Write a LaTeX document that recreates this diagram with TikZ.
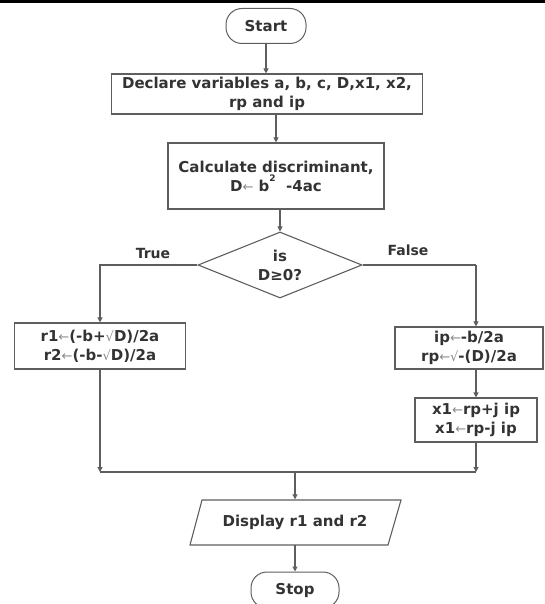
\documentclass[tikz,border=0pt]{standalone}
\usepackage{fontspec}
\setmainfont{DejaVu Sans}
\usetikzlibrary{arrows.meta,shapes.geometric}
\definecolor{ink}{HTML}{333333}
\definecolor{edge}{HTML}{5E5E5E}
\definecolor{soft}{HTML}{8A8A8A}
% light assignment arrow and root sign
\newcommand\getsarrow{{\fontsize{13}{13}\selectfont\mdseries\color{soft}←}}
\newcommand\rootsign{{\fontsize{13}{13}\selectfont\mdseries\color{soft}√}}
\begin{document}
\begin{tikzpicture}[x=1pt,y=-1pt,
  txt/.style={font=\fontsize{15}{19}\selectfont\bfseries, text=ink, align=center},
  procbox/.style={txt, draw=edge, line width=1.1pt, inner sep=0pt},
  term/.style={txt, draw=edge, line width=1pt, rounded corners=16pt, inner sep=0pt},
  decision/.style={txt, draw=edge, line width=1.1pt, shape=diamond, aspect=2.48, inner sep=0pt},
  flow/.style={draw=edge, line width=1.1pt},
  arr/.style={flow, -{Triangle[length=5pt,width=5pt]}},
  lbl/.style={font=\fontsize{14}{16}\selectfont\bfseries, text=ink}
]
\useasboundingbox (0,0) rectangle (545,604);
% rule along the top edge
\fill[black] (0,0) rectangle (545,3.5);

% nodes
\node[term, minimum width=80, minimum height=35] (start) at (266,26) {Start};
\node[procbox, minimum width=311, minimum height=40] (decl) at (267,94)
  {Declare variables a, b, c, D,x1, x2,\\rp and ip};
\node[procbox, minimum width=216, minimum height=66] (calc) at (276,176)
  {Calculate discriminant,\\D\getsarrow\ b\raisebox{10pt}{\fontsize{9}{9}\selectfont 2}\ \ -4ac};
\node[decision, minimum width=164, minimum height=66] (cond) at (280,265)
  {is\\D≥0?};
\node[procbox, minimum width=171, minimum height=46] (roots) at (100,346)
  {r1\getsarrow(-b+\rootsign D)/2a\\r2\getsarrow(-b-\rootsign D)/2a};
\node[procbox, minimum width=148, minimum height=42] (cplx) at (469,348)
  {ip\getsarrow-b/2a\\rp\getsarrow\rootsign-(D)/2a};
\node[procbox, minimum width=122, minimum height=44] (xs) at (476,420)
  {x1\getsarrow rp+j ip\\x1\getsarrow rp-j ip};

% output parallelogram
\node[txt, minimum width=186, minimum height=45] (disp) at (295,522) {Display r1 and r2};
\draw[edge, line width=1.1pt] (190,545) -- (202,500) -- (401,500) -- (388,545) -- cycle;

\node[term, minimum width=88, minimum height=36] (stop) at (295,590) {Stop};

% branch labels
\node[lbl] (tl) at (153,253) {True};
\node[lbl] (fl) at (408,250) {False};

% junction points
\coordinate (fx) at (xs.north |- cond.east);
\coordinate (ml) at (roots.south |- 0,472);
\coordinate (mr) at (xs.south |- 0,472);
\coordinate (mm) at (disp.north |- 0,472);

% connectors
\draw[arr] (start.south) -- (start.south |- decl.north);
\draw[arr] (calc.north |- decl.south) -- (calc.north);
\draw[arr] (cond.north |- calc.south) -- (cond.north);
\draw[arr] (cond.west) -| (roots.north);
\draw[flow] (cond.east) -- (fx);
\draw[arr] (fx) -- (fx |- cplx.north);
\draw[arr] (xs.north |- cplx.south) -- (xs.north);
\draw[arr] (roots.south) -- (ml);
\draw[arr] (xs.south) -- (mr);
\draw[flow] (ml) -- (mr);
\draw[arr] (mm) -- (disp.north);
\draw[arr] (disp.south) -- (stop.north);
\end{tikzpicture}
\end{document}
